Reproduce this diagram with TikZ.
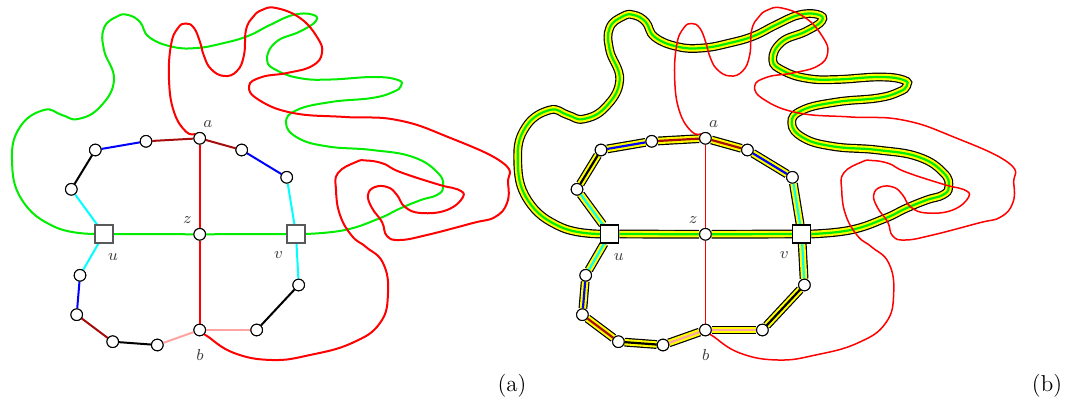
\documentclass[tikz,border=0pt]{standalone}
\begin{document}
\definecolor{gr}{rgb}{0,0.93,0}
\definecolor{cy}{rgb}{0,1,1}
\definecolor{yl}{rgb}{1,1,0}
\definecolor{bl}{rgb}{0,0,1}
\definecolor{rd}{rgb}{1,0,0}
\definecolor{dred}{rgb}{0.66,0.05,0.05}
\definecolor{pinkish}{rgb}{1,0.64,0.64}
\tikzset{
  vtx/.style={circle, draw=black, fill=white, line width=0.5pt, minimum size=5.8pt, inner sep=0pt},
  sq/.style={rectangle, draw=black!65, fill=white, line width=0.6pt, minimum size=9pt, inner sep=0pt},
  lbl/.style={text=black!75, font=\fontsize{8.5}{10}\selectfont, inner sep=0pt},
  captxt/.style={font=\fontsize{11.5}{13}\selectfont, inner sep=0pt},
  edg/.style={line width=1pt, draw=#1},
  hl/.style={line width=4.4pt, draw=black, postaction={draw=yl, line width=3.2pt}, postaction={draw=#1, line width=1.1pt}},
  redthick/.style={rd, line width=1pt},
  redthin/.style={rd, line width=0.75pt},
  crv/.style={smooth, tension=0.75},
}
\begin{tikzpicture}[x=0.5pt,y=-0.5pt]
\useasboundingbox (0,0) rectangle (1066,405);
% ================= LEFT PANEL =================
\node[vtx] (a) at (199.7,138.3) {};
\node[vtx] (n1) at (146,141.3) {};
\node[vtx] (n2) at (95.3,150) {};
\node[vtx] (n3) at (71.3,189.3) {};
\node[sq]  (u) at (104,234) {};
\node[vtx] (z) at (199.7,234.3) {};
\node[sq]  (v) at (296,234) {};
\node[vtx] (n4) at (241.7,150) {};
\node[vtx] (n5) at (286.7,177.3) {};
\node[vtx] (n6) at (80,275.3) {};
\node[vtx] (n7) at (76.7,314.7) {};
\node[vtx] (n8) at (112.7,341.7) {};
\node[vtx] (n9) at (157.3,345) {};
\node[vtx] (b) at (199.7,330) {};
\node[vtx] (n10) at (256.7,330) {};
\node[vtx] (n11) at (298.7,285) {};
% green curve
\draw[gr, line width=1pt] plot[crv] coordinates {(u.west) (55,227) (22,200) (12,160) (20,127) (44,110) (62,115) (78,119) (100,107) (114,80) (104,50) (104,28) (117,16.5) (128,15) (140,22) (149,37) (172,46.7) (197,48) (224,43) (248,36) (270,25) (293,15) (312,14.5) (316,21) (300,31.5) (276,42) (267,60) (278,71) (302,78.5) (331,79.5) (374,77) (398,80) (401,86) (393,92) (372,98) (331,102) (297,110) (286,123) (298,138) (328,146.5) (372,150) (413,157) (438,173) (443,187) (437,195) (421,200) (400,208.5) (379,218.5) (345,230) (v.east)};
% red curve
\draw[redthick] plot[crv] coordinates {(a.north west) (186,131.7) (174,112) (169,80) (171,45) (178,28) (186,23.5) (194,28) (200,42) (204,56) (211,69) (224,76) (237,71) (244,55) (246,30) (253,17) (262,10) (276,8) (300,18) (317,37) (322,53) (312,66) (287,73) (262,77) (249,86) (259,100) (293,113) (345,117) (397,120) (448,137) (503,163) (508,183) (507,203) (495,217) (473,223) (427,235) (400,240) (387,236) (382,222) (372,208) (368,195) (375,187) (388,187.3) (397,195) (405,207) (421,213) (447,210) (463,197) (458,189.5) (440,185) (400,172) (383,163.5) (366,160.5) (356,162) (338,173) (336,190) (340,215) (352,236) (366,247) (383,263) (388,293) (380,323) (352,343) (310,355) (272,360) (234,353) (207,336) (b.south east)};
% graph edges
\draw[edg=gr] (u) -- (z);
\draw[edg=gr] (z) -- (v);
\draw[edg=rd] (a) -- (z);
\draw[edg=rd] (z) -- (b);
\draw[edg=dred] (a) -- (n1);
\draw[edg=bl] (n1) -- (n2);
\draw[edg=black] (n2) -- (n3);
\draw[edg=cy] (n3) -- (u);
\draw[edg=cy] (u) -- (n6);
\draw[edg=bl] (n6) -- (n7);
\draw[edg=dred] (n7) -- (n8);
\draw[edg=black] (n8) -- (n9);
\draw[edg=pinkish] (n9) -- (b);
\draw[edg=pinkish] (b) -- (n10);
\draw[edg=black] (n10) -- (n11);
\draw[edg=cy] (n11) -- (v);
\draw[edg=cy] (v) -- (n5);
\draw[edg=bl] (n5) -- (n4);
\draw[edg=dred] (n4) -- (a);
% redraw nodes on top
\foreach \n/\p in {a/{(199.7,138.3)},n1/{(146,141.3)},n2/{(95.3,150)},n3/{(71.3,189.3)},z/{(199.7,234.3)},n4/{(241.7,150)},n5/{(286.7,177.3)},n6/{(80,275.3)},n7/{(76.7,314.7)},n8/{(112.7,341.7)},n9/{(157.3,345)},b/{(199.7,330)},n10/{(256.7,330)},n11/{(298.7,285)}}
  \node[vtx] (c\n) at \p {};
\node[sq] (cu) at (104,234) {};
\node[sq] (cv) at (296,234) {};
% labels
\node[lbl] (la) at (208,124.5) {$a$};
\node[lbl] (lz) at (187.5,220.5) {$z$};
\node[lbl] (lu) at (113,257) {$u$};
\node[lbl] (lv) at (278.5,255) {$v$};
\node[lbl] (lb) at (200,355) {$b$};
\node[captxt] (capa) at (512,386) {(a)};

% ================= RIGHT PANEL =================
\begin{scope}[xshift=252.85pt]
\node[vtx] (ar) at (199.7,138.3) {};
\node[vtx] (n1r) at (146,141.3) {};
\node[vtx] (n2r) at (95.3,150) {};
\node[vtx] (n3r) at (71.3,189.3) {};
\node[sq]  (ur) at (104,234) {};
\node[vtx] (zr) at (199.7,234.3) {};
\node[sq]  (vr) at (296,234) {};
\node[vtx] (n4r) at (241.7,150) {};
\node[vtx] (n5r) at (286.7,177.3) {};
\node[vtx] (n6r) at (80,275.3) {};
\node[vtx] (n7r) at (76.7,314.7) {};
\node[vtx] (n8r) at (112.7,341.7) {};
\node[vtx] (n9r) at (157.3,345) {};
\node[vtx] (br) at (199.7,330) {};
\node[vtx] (n10r) at (256.7,330) {};
\node[vtx] (n11r) at (298.7,285) {};
% highlighted green curve
\draw[hl=gr] plot[crv] coordinates {(ur.west) (55,227) (22,200) (12,160) (20,127) (44,110) (62,115) (78,119) (100,107) (114,80) (104,50) (104,28) (117,16.5) (128,15) (140,22) (149,37) (172,46.7) (197,48) (224,43) (248,36) (270,25) (293,15) (312,14.5) (316,21) (300,31.5) (276,42) (267,60) (278,71) (302,78.5) (331,79.5) (374,77) (398,80) (401,86) (393,92) (372,98) (331,102) (297,110) (286,123) (298,138) (328,146.5) (372,150) (413,157) (438,173) (443,187) (437,195) (421,200) (400,208.5) (379,218.5) (345,230) (vr.east)};
% highlighted edges
\draw[hl=gr] (ur) -- (zr);
\draw[hl=gr] (zr) -- (vr);
\draw[hl=dred] (ar) -- (n1r);
\draw[hl=bl] (n1r) -- (n2r);
\draw[hl=black] (n2r) -- (n3r);
\draw[hl=cy] (n3r) -- (ur);
\draw[hl=cy] (ur) -- (n6r);
\draw[hl=bl] (n6r) -- (n7r);
\draw[hl=dred] (n7r) -- (n8r);
\draw[hl=black] (n8r) -- (n9r);
\draw[hl=pinkish] (n9r) -- (br);
\draw[hl=pinkish] (br) -- (n10r);
\draw[hl=black] (n10r) -- (n11r);
\draw[hl=cy] (n11r) -- (vr);
\draw[hl=cy] (vr) -- (n5r);
\draw[hl=bl] (n5r) -- (n4r);
\draw[hl=dred] (n4r) -- (ar);
% thin red
\draw[redthin] plot[crv] coordinates {(ar.north west) (186,131.7) (174,112) (169,80) (171,45) (178,28) (186,23.5) (194,28) (200,42) (204,56) (211,69) (224,76) (237,71) (244,55) (246,30) (253,17) (262,10) (276,8) (300,18) (317,37) (322,53) (312,66) (287,73) (262,77) (249,86) (259,100) (293,113) (345,117) (397,120) (448,137) (503,163) (508,183) (507,203) (495,217) (473,223) (427,235) (400,240) (387,236) (382,222) (372,208) (368,195) (375,187) (388,187.3) (397,195) (405,207) (421,213) (447,210) (463,197) (458,189.5) (440,185) (400,172) (383,163.5) (366,160.5) (356,162) (338,173) (336,190) (340,215) (352,236) (366,247) (383,263) (388,293) (380,323) (352,343) (310,355) (272,360) (234,353) (207,336) (br.south east)};
\draw[redthin] (ar) -- (zr);
\draw[redthin] (zr) -- (br);
\foreach \n/\p in {a/{(199.7,138.3)},n1/{(146,141.3)},n2/{(95.3,150)},n3/{(71.3,189.3)},z/{(199.7,234.3)},n4/{(241.7,150)},n5/{(286.7,177.3)},n6/{(80,275.3)},n7/{(76.7,314.7)},n8/{(112.7,341.7)},n9/{(157.3,345)},b/{(199.7,330)},n10/{(256.7,330)},n11/{(298.7,285)}}
  \node[vtx] (c\n r) at \p {};
\node[sq, draw=black] (cur) at (104,234) {};
\node[sq, draw=black] (cvr) at (296,234) {};
\node[lbl] (lar) at (208,124.5) {$a$};
\node[lbl] (lzr) at (187.5,220.5) {$z$};
\node[lbl] (lur) at (113,257) {$u$};
\node[lbl] (lvr) at (278.5,255) {$v$};
\node[lbl] (lbr) at (200,355) {$b$};
\end{scope}
\node[captxt] (capb) at (1047,386) {(b)};
\end{tikzpicture}
\end{document}
